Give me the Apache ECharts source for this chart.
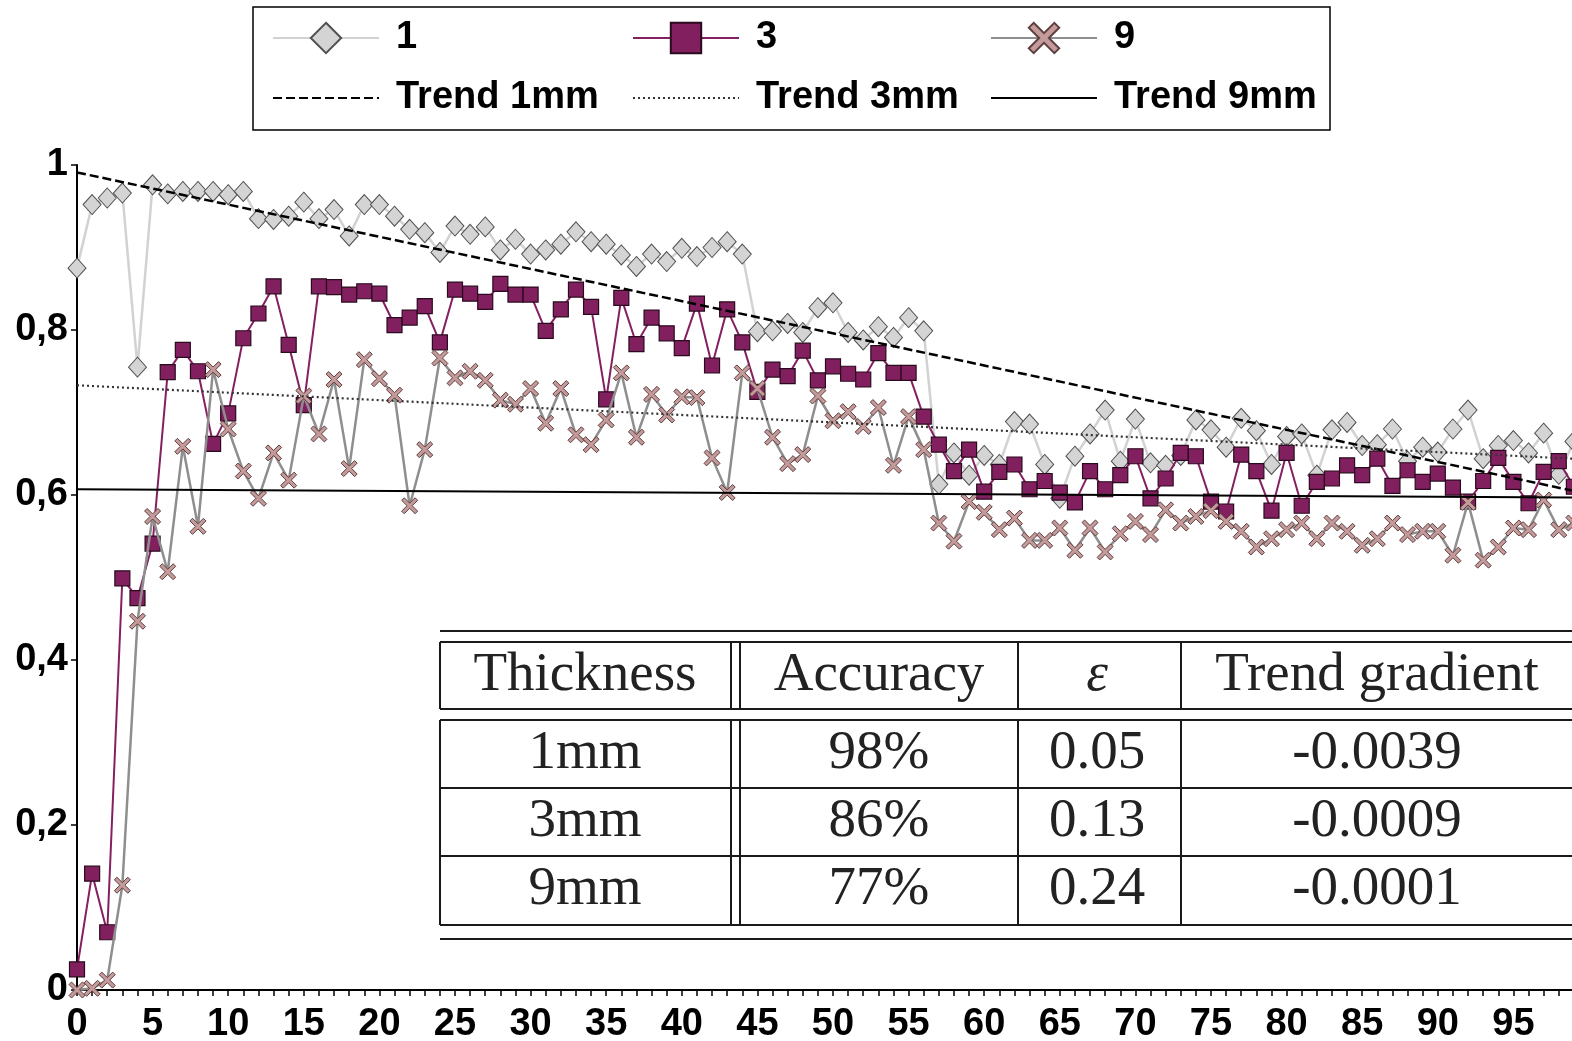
<!DOCTYPE html>
<html>
<head>
<meta charset="utf-8">
<title>Accuracy by thickness</title>
<script src="https://cdn.jsdelivr.net/npm/echarts@6/dist/echarts.min.js"></script>
<style>
  html, body { margin: 0; padding: 0; background: #ffffff; }
  #chart { width: 1572px; height: 1041px; }
</style>
</head>
<body>
<div id="chart"></div>
<script>
// series values, one per step 0..99
const acc1mm = [0.875, 0.952, 0.960, 0.966, 0.755, 0.976, 0.965, 0.968, 0.968, 0.968,
  0.964, 0.968, 0.935, 0.934, 0.938, 0.955, 0.935, 0.946, 0.914, 0.952,
  0.952, 0.938, 0.922, 0.918, 0.894, 0.926, 0.916, 0.925, 0.897, 0.910,
  0.892, 0.897, 0.904, 0.919, 0.907, 0.904, 0.891, 0.877, 0.892, 0.883,
  0.899, 0.889, 0.900, 0.907, 0.892, 0.798, 0.799, 0.808, 0.797, 0.827,
  0.833, 0.797, 0.788, 0.804, 0.791, 0.815, 0.799, 0.613, 0.651, 0.624,
  0.648, 0.637, 0.689, 0.686, 0.637, 0.596, 0.647, 0.674, 0.703, 0.641,
  0.692, 0.639, 0.636, 0.648, 0.691, 0.679, 0.658, 0.693, 0.678, 0.637,
  0.671, 0.674, 0.624, 0.679, 0.688, 0.660, 0.661, 0.680, 0.641, 0.658,
  0.652, 0.680, 0.703, 0.644, 0.660, 0.666, 0.651, 0.675, 0.625, 0.665];

const acc3mm = [0.025, 0.141, 0.070, 0.499, 0.475, 0.541, 0.749, 0.776, 0.750, 0.662,
  0.699, 0.790, 0.820, 0.853, 0.782, 0.709, 0.853, 0.852, 0.843, 0.847,
  0.844, 0.806, 0.815, 0.829, 0.785, 0.849, 0.844, 0.834, 0.856, 0.843,
  0.843, 0.799, 0.825, 0.849, 0.828, 0.716, 0.839, 0.783, 0.815, 0.796,
  0.778, 0.832, 0.757, 0.825, 0.785, 0.725, 0.752, 0.744, 0.775, 0.739,
  0.756, 0.747, 0.740, 0.772, 0.748, 0.748, 0.695, 0.661, 0.629, 0.655,
  0.604, 0.628, 0.637, 0.607, 0.617, 0.603, 0.591, 0.629, 0.607, 0.624,
  0.647, 0.596, 0.620, 0.651, 0.647, 0.592, 0.580, 0.649, 0.629, 0.581,
  0.651, 0.587, 0.616, 0.620, 0.636, 0.624, 0.644, 0.611, 0.630, 0.616,
  0.626, 0.609, 0.592, 0.617, 0.645, 0.616, 0.590, 0.628, 0.641, 0.610];

const acc9mm = [0.000, 0.002, 0.012, 0.127, 0.447, 0.574, 0.507, 0.659, 0.562, 0.752,
  0.680, 0.629, 0.596, 0.651, 0.618, 0.720, 0.674, 0.740, 0.632, 0.764,
  0.741, 0.721, 0.587, 0.655, 0.766, 0.742, 0.750, 0.739, 0.715, 0.710,
  0.729, 0.687, 0.729, 0.673, 0.661, 0.691, 0.748, 0.670, 0.722, 0.697,
  0.719, 0.718, 0.645, 0.603, 0.748, 0.729, 0.670, 0.638, 0.649, 0.720,
  0.690, 0.701, 0.683, 0.706, 0.636, 0.695, 0.655, 0.566, 0.544, 0.592,
  0.579, 0.558, 0.572, 0.545, 0.545, 0.560, 0.533, 0.560, 0.531, 0.553,
  0.568, 0.552, 0.582, 0.566, 0.574, 0.581, 0.568, 0.556, 0.537, 0.547,
  0.558, 0.566, 0.547, 0.566, 0.556, 0.539, 0.547, 0.566, 0.552, 0.556,
  0.556, 0.527, 0.591, 0.521, 0.537, 0.560, 0.558, 0.594, 0.558, 0.566];

// linear trends, value at start and end of the x range
const trendX = [0, 100];
const trend1mm = [0.991, 0.601];
const trend3mm = [0.733, 0.643];
const trend9mm = [0.607, 0.597];

// inset table
const tableHeader = ['Thickness', 'Accuracy', 'ε', 'Trend gradient'];
const tableThickness = ['1mm', '3mm', '9mm'];
const tableAccuracy = ['98%', '86%', '77%'];
const tableEpsilon = ['0.05', '0.13', '0.24'];
const tableGradient = ['-0.0039', '-0.0009', '-0.0001'];

const CROSS = 'path://M1.6,0 L5,3.4 L8.4,0 L10,1.6 L6.6,5 L10,8.4 L8.4,10 L5,6.6 L1.6,10 L0,8.4 L3.4,5 L0,1.6 Z';

function pairs(values) {
  return values.map((v, i) => [i, v]);
}

function trendPairs(values) {
  return values.map((v, i) => [trendX[i], v]);
}

/*
* table drawn as graphic lines and texts
* */
function buildTable() {
  const items = [];
  const ink = '#1a1a1a';
  const xLeft = 440, xRight = 1600;
  const hLines = [631, 642, 709, 720, 788, 856, 925, 939];
  hLines.forEach(y => {
    items.push({type: 'line', shape: {x1: xLeft, y1: y, x2: xRight, y2: y}, style: {stroke: ink, lineWidth: 2}, z: 100});
  });
  const vLines = [440, 731, 740, 1018, 1181];
  vLines.forEach(x => {
    items.push({type: 'line', shape: {x1: x, y1: 642, x2: x, y2: 709}, style: {stroke: ink, lineWidth: 2}, z: 100});
    items.push({type: 'line', shape: {x1: x, y1: 720, x2: x, y2: 925}, style: {stroke: ink, lineWidth: 2}, z: 100});
  });
  const colX = [585, 879, 1097, 1377];
  const rowY = [754, 822, 890];
  const font = '55px "Liberation Serif", "Times New Roman", serif';
  const text = (t, x, y, italic) => ({
    type: 'text', x: x, y: y, z: 101,
    style: {
      text: t, fill: '#222', font: (italic ? 'italic ' : '') + font,
      align: 'center', verticalAlign: 'middle', textAlign: 'center', textVerticalAlign: 'middle'
    }
  });
  tableHeader.forEach((h, i) => items.push(text(h, colX[i], 676, h === 'ε')));
  const cols = [tableThickness, tableAccuracy, tableEpsilon, tableGradient];
  cols.forEach((col, c) => col.forEach((t, r) => items.push(text(t, colX[c], rowY[r], false))));
  // legend frame
  items.push({type: 'rect', shape: {x: 253, y: 7, width: 1077, height: 123}, style: {fill: 'none', stroke: '#000', lineWidth: 1.5}, z: 100});
  return items;
}

const legendBase = {
  orient: 'vertical',
  top: 14,
  itemWidth: 106,
  itemHeight: 38,
  itemGap: 22,
  selectedMode: false,
  textStyle: {
    fontSize: 38,
    fontWeight: 'bold',
    color: '#000',
    fontFamily: '"Liberation Sans", Arial, sans-serif',
    padding: [0, 0, 0, 12]
  }
};

const hideMark = {opacity: 0};

let chart = echarts.init(document.getElementById('chart'));
chart.setOption({
  animation: false,
  backgroundColor: '#ffffff',
  legend: [
    Object.assign({left: 267, data: ['1', {name: 'Trend 1mm', itemStyle: hideMark}]}, legendBase),
    Object.assign({left: 627, data: ['3', {name: 'Trend 3mm', itemStyle: hideMark}]}, legendBase),
    Object.assign({left: 985, data: ['9', {name: 'Trend 9mm', itemStyle: hideMark}]}, legendBase)
  ],
  grid: {
    left: 77,
    right: -17,
    top: 165,
    bottom: 51,
    outerBoundsMode: 'none'
  },
  xAxis: {
    type: 'value',
    min: 0,
    max: 100,
    interval: 5,
    splitLine: {show: false},
    axisLine: {onZero: false, lineStyle: {color: '#000', width: 2}},
    axisTick: {length: 6, lineStyle: {color: '#000', width: 1.5}},
    minorTick: {show: true, splitNumber: 5, length: 6, lineStyle: {color: '#000', width: 1.5}},
    axisLabel: {
      margin: 16,
      color: '#000',
      fontSize: 38,
      fontWeight: 'bold',
      fontFamily: '"Liberation Sans", Arial, sans-serif',
      formatter: v => (v >= 100 ? '' : String(v))
    }
  },
  yAxis: {
    type: 'value',
    min: 0,
    max: 1,
    interval: 0.2,
    splitLine: {show: false},
    axisLine: {show: true, lineStyle: {color: '#000', width: 2}},
    axisTick: {show: true, length: 6, lineStyle: {color: '#000', width: 1.5}},
    axisLabel: {
      margin: 9,
      color: '#000',
      fontSize: 38,
      fontWeight: 'bold',
      fontFamily: '"Liberation Sans", Arial, sans-serif',
      formatter: v => String(Math.round(v * 10) / 10).replace('.', ',')
    }
  },
  graphic: buildTable(),
  series: [
    {
      name: '1',
      type: 'line',
      data: pairs(acc1mm),
      symbol: 'diamond',
      symbolSize: [18, 20],
      z: 2,
      lineStyle: {color: '#d2d2d2', width: 2.5},
      itemStyle: {color: '#d4d4d4', borderColor: '#505050', borderWidth: 1}
    },
    {
      name: '3',
      type: 'line',
      data: pairs(acc3mm),
      symbol: 'rect',
      symbolSize: 15,
      z: 3,
      lineStyle: {color: '#84205f', width: 2},
      itemStyle: {color: '#82205f', borderColor: '#2a0a1e', borderWidth: 1.2}
    },
    {
      name: '9',
      type: 'line',
      data: pairs(acc9mm),
      symbol: CROSS,
      symbolSize: 16,
      z: 4,
      lineStyle: {color: '#8e8e8e', width: 2.5},
      itemStyle: {color: '#c49a9a', borderColor: '#5e3f3f', borderWidth: 1}
    },
    {
      name: 'Trend 1mm',
      type: 'line',
      data: trendPairs(trend1mm),
      symbol: 'none',
      z: 5,
      lineStyle: {color: '#000', width: 2.5, type: [9, 4]}
    },
    {
      name: 'Trend 3mm',
      type: 'line',
      data: trendPairs(trend3mm),
      symbol: 'none',
      z: 5,
      lineStyle: {color: '#333', width: 2.2, type: [2, 3]}
    },
    {
      name: 'Trend 9mm',
      type: 'line',
      data: trendPairs(trend9mm),
      symbol: 'none',
      z: 5,
      lineStyle: {color: '#000', width: 2}
    }
  ]
});
</script>
</body>
</html>
